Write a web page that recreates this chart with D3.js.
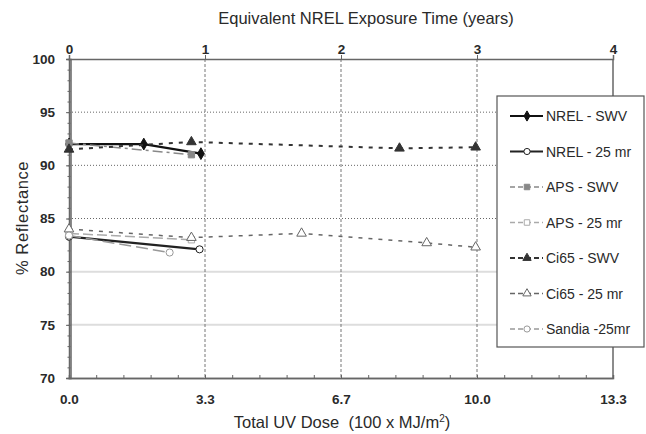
<!DOCTYPE html>
<html>
<head>
<meta charset="utf-8">
<script src="https://cdn.jsdelivr.net/npm/d3@7"></script>
<style>
body { margin: 0; background: #fff; }
text { font-family: "Liberation Sans", Arial, sans-serif; fill: #2a2a2a; }
</style>
</head>
<body>
<svg id="chart"></svg>
<script>
// data, x in equivalent NREL years, y in % reflectance
var nrelSwv = [[0, 92.0], [0.55, 92.0], [0.97, 91.1]];
var nrel25 = [[0, 83.3], [0.96, 82.1]];
var apsSwv = [[0, 92.1], [0.9, 91.0]];
var aps25 = [[0, 83.6], [0.9, 83.0]];
var ci65Swv = [[0, 91.5], [0.9, 92.2], [2.43, 91.6], [2.99, 91.7]];
var ci6525 = [[0, 84.0], [0.9, 83.2], [1.71, 83.6], [2.63, 82.7], [2.99, 82.3]];
var sandia25 = [[0, 83.4], [0.74, 81.8]];

var seriesNames = ["NREL - SWV", "NREL - 25 mr", "APS - SWV", "APS - 25 mr", "Ci65 - SWV", "Ci65 - 25 mr", "Sandia -25mr"];
var yearTicks = [0, 1, 2, 3, 4];
var doseTicks = [0, 10/3, 20/3, 10, 40/3];
var yTicks = [70, 75, 80, 85, 90, 95, 100];

var screen = {width: 646, height: 434};
var margins = {top: 59, right: 33, bottom: 56, left: 69};
var width = screen.width - margins.left - margins.right;
var height = screen.height - margins.top - margins.bottom;

var svg = d3.select("#chart")
    .attr("width", screen.width)
    .attr("height", screen.height);

var g = svg.append("g")
    .attr("transform", "translate(" + margins.left + "," + margins.top + ")");

var xScale = d3.scaleLinear().domain([0, 4]).range([0, width]);
var doseScale = d3.scaleLinear().domain([0, 40/3]).range([0, width]);
var yScale = d3.scaleLinear().domain([70, 100]).range([height, 0]);

// gridlines
[95, 90, 85].forEach(function(v){
  g.append("line")
    .attr("x1", 0).attr("x2", width)
    .attr("y1", yScale(v)).attr("y2", yScale(v))
    .attr("stroke", "#666").attr("stroke-width", 1)
    .attr("stroke-dasharray", "1,2");
});
[80, 75].forEach(function(v){
  g.append("line")
    .attr("x1", 0).attr("x2", width)
    .attr("y1", yScale(v)).attr("y2", yScale(v))
    .attr("stroke", "#ddd").attr("stroke-width", 2);
});
[1, 2, 3].forEach(function(v){
  g.append("line")
    .attr("x1", xScale(v)).attr("x2", xScale(v))
    .attr("y1", 0).attr("y2", height)
    .attr("stroke", "#777").attr("stroke-width", 1)
    .attr("stroke-dasharray", "3,2");
});

// axes
var leftAxis = d3.axisLeft(yScale).tickValues(yTicks).tickSize(3).tickPadding(11);
var leftMinor = d3.axisLeft(yScale).ticks(30).tickSize(3).tickFormat("");
var bottomAxis = d3.axisBottom(doseScale).tickValues(doseTicks).tickFormat(d3.format(".1f")).tickSize(0).tickPadding(16);
var bottomMinor = d3.axisTop(xScale).ticks(16).tickSize(3).tickFormat("");
var topAxis = d3.axisTop(xScale).tickValues(yearTicks).tickFormat(d3.format("d")).tickSize(4).tickPadding(1);

g.append("g").call(leftMinor).attr("transform", "translate(1.5,0)");
g.append("g").call(leftAxis);
g.append("g").attr("transform", "translate(0," + height + ")").call(bottomMinor);
g.append("g").attr("transform", "translate(0," + height + ")").call(bottomAxis);
g.append("g").call(topAxis);

g.selectAll(".domain").attr("stroke", "#666").attr("stroke-width", 1.5);
g.selectAll(".tick line").attr("stroke", "#666");
g.selectAll(".tick text")
  .style("font-size", "13.5px").style("font-weight", "bold").attr("fill", "#3a3a3a");

// right border
g.append("line")
  .attr("x1", width).attr("x2", width)
  .attr("y1", 0).attr("y2", height)
  .attr("stroke", "#666").attr("stroke-width", 1.5);

// titles
svg.append("text")
  .attr("x", 366).attr("y", 24)
  .attr("text-anchor", "middle")
  .style("font-size", "16.5px")
  .text("Equivalent NREL Exposure Time (years)");

var xt = svg.append("text")
  .attr("x", 342).attr("y", 428)
  .attr("text-anchor", "middle")
  .style("font-size", "16.5px")
  .style("white-space", "pre");
xt.append("tspan").text("Total UV Dose  (100 x MJ/m");
xt.append("tspan").attr("dy", -6).style("font-size", "10px").text("2");
xt.append("tspan").attr("dy", 6).text(")");

svg.append("text")
  .attr("transform", "translate(28," + 218 + ") rotate(-90)")
  .attr("text-anchor", "middle")
  .style("font-size", "16.5px")
  .style("letter-spacing", "0.6px")
  .text("% Reflectance");

// series styles
var styles = [
  {data: nrelSwv, color: "#111", dash: null, width: 2.2, marker: "diamond", fill: "#111"},
  {data: nrel25, color: "#222", dash: null, width: 2.2, marker: "circle", fill: "#fff"},
  {data: apsSwv, color: "#888", dash: "10,4,3,4", width: 1.5, marker: "square", fill: "#888"},
  {data: aps25, color: "#aaa", dash: "10,4", width: 1.5, marker: "square", fill: "#fff"},
  {data: ci65Swv, color: "#333", dash: "4,6", width: 2, marker: "triangle", fill: "#333"},
  {data: ci6525, color: "#666", dash: "4,6", width: 1.5, marker: "triangle", fill: "#fff"},
  {data: sandia25, color: "#999", dash: "12,5", width: 1.5, marker: "circle", fill: "#fff"}
];

var symbolTypes = {
  diamond: d3.symbolDiamond,
  circle: d3.symbolCircle,
  square: d3.symbolSquare,
  triangle: d3.symbolTriangle
};

var line = d3.line()
  .x(function(d){ return xScale(d[0]); })
  .y(function(d){ return yScale(d[1]); });

styles.forEach(function(s){
  g.append("path")
    .datum(s.data)
    .attr("d", line)
    .attr("fill", "none")
    .attr("stroke", s.color)
    .attr("stroke-width", s.width)
    .attr("stroke-dasharray", s.dash);
  g.selectAll(null)
    .data(s.data)
    .enter()
    .append("path")
    .attr("d", d3.symbol().type(symbolTypes[s.marker]).size(40))
    .attr("transform", function(d){ return "translate(" + xScale(d[0]) + "," + yScale(d[1]) + ")"; })
    .attr("fill", s.fill)
    .attr("stroke", s.color)
    .attr("stroke-width", 1);
});

// legend
var legend = svg.append("g").attr("transform", "translate(497,96)");
legend.append("rect")
  .attr("width", 147).attr("height", 251)
  .attr("fill", "#fff").attr("stroke", "#555").attr("stroke-width", 1.2);

var items = legend.selectAll("g.item")
  .data(seriesNames)
  .enter()
  .append("g")
  .attr("transform", function(d, i){ return "translate(0," + (20 + i * 35.5) + ")"; });

items.append("line")
  .attr("x1", 13).attr("x2", 46)
  .attr("stroke", function(d, i){ return styles[i].color; })
  .attr("stroke-width", function(d, i){ return styles[i].width; })
  .attr("stroke-dasharray", function(d, i){ return styles[i].dash ? "5,3" : null; });

items.append("path")
  .attr("d", function(d, i){ return d3.symbol().type(symbolTypes[styles[i].marker]).size(30)(); })
  .attr("transform", "translate(30,0)")
  .attr("fill", function(d, i){ return styles[i].fill; })
  .attr("stroke", function(d, i){ return styles[i].color; });

items.append("text")
  .attr("x", 49).attr("y", 5)
  .style("font-size", "14px")
  .text(function(d){ return d; });
</script>
</body>
</html>
